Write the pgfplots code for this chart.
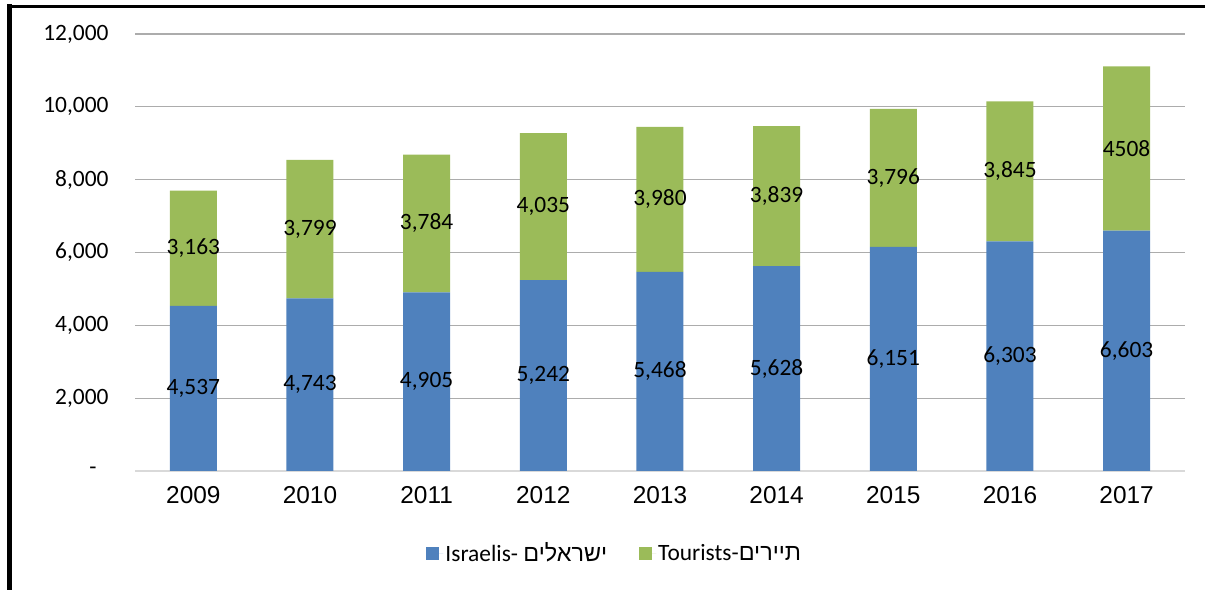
\documentclass[border=0pt]{standalone}
\usepackage{pgfplots}
\pgfplotsset{compat=1.18}
\usepackage{pgfplotstable}
\usepackage{fontspec}
\setmainfont{Liberation Sans}
\newfontfamily\carlito{Carlito}
\newfontfamily\arialf{Liberation Sans}
\newfontfamily\hebfont[Script=Hebrew]{Liberation Sans}
\TeXXeTstate=1
\definecolor{isr}{RGB}{79,129,189}
\definecolor{tour}{RGB}{155,187,89}
\definecolor{gridc}{RGB}{172,172,172}
\definecolor{axc}{RGB}{217,217,217}

\pgfplotstableread{
x isr tour isrlab tourlab
0 4537 3163 4,537 3,163
1 4743 3799 4,743 3,799
2 4905 3784 4,905 3,784
3 5242 4035 5,242 4,035
4 5468 3980 5,468 3,980
5 5628 3839 5,628 3,839
6 6151 3796 6,151 3,796
7 6303 3845 6,303 3,845
8 6603 4508 6,603 4508
}\datatable

\begin{document}
\begin{tikzpicture}
\useasboundingbox (0,0) rectangle (1205bp,590bp);
\begin{axis}[
  at={(135bp,119bp)}, anchor=south west,
  scale only axis, width=1050bp, height=437bp,
  ybar stacked, bar width=47bp,
  xmin=-0.5, xmax=8.5, ymin=0, ymax=12000,
  scaled y ticks=false,
  xtick={0,...,8},
  xticklabels={2009,2010,2011,2012,2013,2014,2015,2016,2017},
  ytick={0,2000,4000,6000,8000,10000,12000},
  yticklabels={{-\hphantom{0}},{2,000},{4,000},{6,000},{8,000},{10,000},{12,000}},
  axis x line*=bottom, axis y line*=left,
  x axis line style={draw=axc, line width=1.3bp, -},
  y axis line style={draw=none},
  major tick length=0pt,
  ymajorgrids, grid style={draw=gridc, line width=1.3bp},
  yticklabel style={font=\carlito\fontsize{23.5}{26}\selectfont, anchor=east, xshift=-23bp},
  xticklabel style={font=\arialf\fontsize{24.5}{27}\selectfont, yshift=-12bp},
  legend style={at={(0.457,-0.188)}, anchor=center, draw=none, fill=none,
    legend columns=2, font=\carlito\fontsize{23.5}{26}\selectfont,
    /tikz/every even column/.append style={column sep=30bp},
    inner sep=0pt},
  legend cell align=left,
]
\addplot[fill=isr, draw=none,
  legend image code/.code={\fill[isr] (0bp,-6.5bp) rectangle (13bp,6.5bp); \path (0bp,0bp) -- (17bp,0bp);}]
  table[x=x, y=isr] {\datatable};
\addlegendentry{Israelis- {\hebfont\beginR ישראלים\endR}}
\addplot[fill=tour, draw=none,
  legend image code/.code={\fill[tour] (0bp,-6.5bp) rectangle (13bp,6.5bp); \path (0bp,0bp) -- (17bp,0bp);}]
  table[x=x, y=tour] {\datatable};
\addlegendentry{Tourists-{\hebfont\beginR תיירים\endR}}
\end{axis}
\begin{axis}[
  at={(135bp,119bp)}, anchor=south west,
  scale only axis, width=1050bp, height=437bp,
  xmin=-0.5, xmax=8.5, ymin=0, ymax=12000,
  scaled y ticks=false,
  hide axis,
  every node near coord/.style={anchor=center, text=black, font=\carlito\fontsize{23.5}{26}\selectfont},
]
\addplot[draw=none, mark=none, nodes near coords, point meta=explicit symbolic]
  table[x=x, y expr=\thisrow{isr}/2, meta=isrlab] {\datatable};
\addplot[draw=none, mark=none, nodes near coords, point meta=explicit symbolic]
  table[x=x, y expr=\thisrow{isr}+\thisrow{tour}/2, meta=tourlab] {\datatable};
\end{axis}
\draw[line width=5bp] (9.5bp,0) -- (9.5bp,586bp);
\draw[line width=3.5bp] (7bp,583.5bp) -- (1205bp,583.5bp);
\end{tikzpicture}
\end{document}
